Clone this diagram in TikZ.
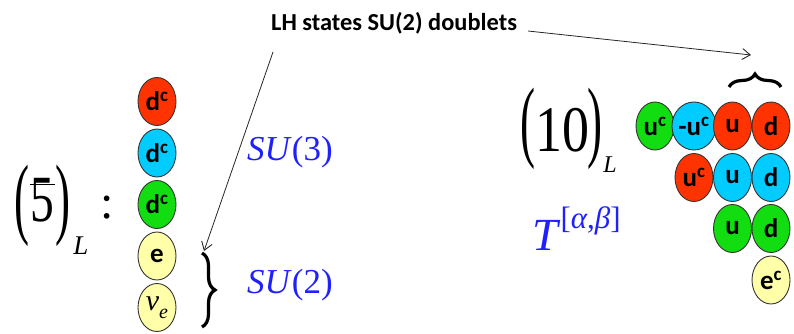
\documentclass[tikz,border=0pt]{standalone}
\usepackage{fontspec}
\setmainfont{Liberation Serif}
\newfontfamily\calfont{Carlito}
\usetikzlibrary{shapes.geometric,arrows.meta,decorations.pathreplacing}
\definecolor{qred}{HTML}{FF3300}
\definecolor{qcyan}{HTML}{00CCFF}
\definecolor{qgreen}{HTML}{11DD11}
\definecolor{qyellow}{HTML}{FFFFAA}
\definecolor{qblue}{HTML}{2020FF}
\tikzset{
  fs/.style={font=\fontsize{#1}{#1}\selectfont},
  quark/.style={ellipse, draw=black!80, line width=0.9pt, minimum width=38pt, minimum height=48pt, inner sep=0pt,
    font=\calfont\bfseries\fontsize{27}{27}\selectfont},
  bigp/.style={inner sep=0pt, font=\fontsize{90}{90}\selectfont},
  bluetext/.style={anchor=base west, inner sep=0pt, text=qblue, font=\fontsize{35}{35}\selectfont},
  arr/.style={line width=0.8pt, black!85, -{Straight Barb[length=8pt,width=11pt,line width=0.9pt]}},
  curly/.style={line width=3.2pt, decorate, decoration={brace, amplitude=13pt}},
}
\begin{document}
\begin{tikzpicture}[x=1pt,y=-1pt]
\useasboundingbox (0,0) rectangle (794,333);
% label
\node[anchor=base west, inner sep=0pt, font=\calfont\bfseries\fontsize{24.4}{24.4}\selectfont] (lbl) at (271,30) {LH states SU(2) doublets};
% (5bar)_L
\node[bigp] (p5l) at (22,206) {\scalebox{0.5}[1]{(}};
\node[inner sep=0pt, fs=66] (five) at (42.5,200.5) {\scalebox{0.72}[1]{5}};
\draw[line width=1.5pt] ([yshift=-6pt]five.north west) -- ([yshift=-6pt]five.north east);
\node[bigp] (p5r) at (63,206) {\scalebox{0.5}[1]{)}};
\node[inner sep=0pt, font=\fontsize{27}{27}\selectfont\itshape] (L5) at (81,246) {L};
\node[inner sep=0pt, fs=48] (colon) at (107,208) {:};
% left column
\node[quark, fill=qred] (l1) at (157,101.5) {d\textsuperscript{c}};
\node[quark, fill=qcyan] (l2) at (157,153) {d\textsuperscript{c}};
\node[quark, fill=qgreen] (l3) at (157,204.5) {d\textsuperscript{c}};
\node[quark, fill=qyellow] (l4) at (157,256) {e};
\node[quark, fill=qyellow] (l5) at (157,307.5) {\rmfamily\mdseries\itshape\fontsize{30}{30}\selectfont ν\raisebox{-8pt}{\fontsize{20}{20}\selectfont e}};
% SU labels
\node[bluetext] (su3) at (247,160) {\textit{SU}(3)};
\node[bluetext] (su2) at (247,293) {\textit{SU}(2)};
% brace left
\draw[curly] (202,253) -- (202,327);
% (10)_L
\node[bigp] (p10l) at (528,129) {\scalebox{0.5}[1]{(}};
\node[inner sep=0pt, fs=65] (ten) at (562,130) {\scalebox{0.83}[1]{10}};
\node[bigp] (p10r) at (595,129) {\scalebox{0.5}[1]{)}};
\node[inner sep=0pt, font=\fontsize{24}{24}\selectfont\itshape] (L10) at (610,165) {L};
\node[bluetext, font=\fontsize{46}{46}\selectfont] (T) at (532,250) {\textit{T}\raisebox{22pt}{\fontsize{31}{31}\selectfont[\textit{α},\textit{β}]}};
% grid
\node[quark, fill=qgreen] (g11) at (655,126) {u\textsuperscript{c}};
\node[quark, fill=qcyan] (g12) at (694,126) {-u\textsuperscript{c}};
\node[quark, fill=qred] (g13) at (732.5,126) {u};
\node[quark, fill=qred] (g14) at (771,126) {d};
\node[quark, fill=qred] (g22) at (694,177.5) {u\textsuperscript{c}};
\node[quark, fill=qcyan] (g23) at (732.5,177.5) {u};
\node[quark, fill=qcyan] (g24) at (771,177.5) {d};
\node[quark, fill=qgreen] (g33) at (732.5,228.5) {u};
\node[quark, fill=qgreen] (g34) at (771,228.5) {d};
\node[quark, fill=qyellow] (g44) at (771,280) {e\textsuperscript{c}};
% top brace
\draw[curly] (729,87) -- (781,87);
% arrows
\coordinate (a1s) at (273,52);
\coordinate (a1e) at (204,251);
\draw[arr] (a1s) -- (a1e);
\coordinate (a2s) at (528,31);
\coordinate (a2e) at (751,55);
\draw[arr] (a2s) -- (a2e);
\end{tikzpicture}
\end{document}
